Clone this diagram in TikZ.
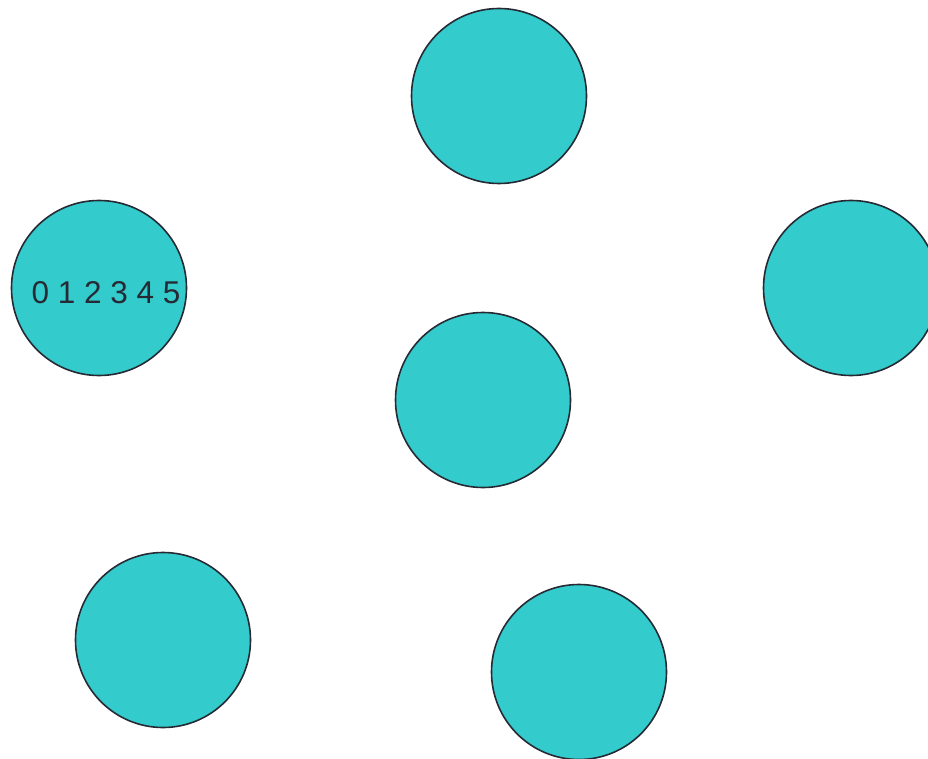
\documentclass[tikz,border=0pt]{standalone}
\usepackage{fontspec}
\setmainfont{Liberation Sans}
\usepackage{xcolor}
\usetikzlibrary{positioning}
\definecolor{tealfill}{HTML}{33CBCC}
\definecolor{ringline}{HTML}{262A35}

\begin{document}
\begin{tikzpicture}[
    x=1pt, y=-1pt,
    ball/.style={circle, draw=ringline, fill=tealfill, line width=1.6pt, minimum size=175pt, inner sep=0pt},
    digits/.style={font=\fontsize{31.5}{36}\selectfont, text=ringline, inner sep=0pt}
]
\useasboundingbox (0,0) rectangle (928,759);
% Balls
\node[ball] (top) at (499,96) {};
\node[ball] (left) at (99,288) {};
\node[ball] (right) at (851,288) {};
\node[ball] (mid) at (483,400) {};
\node[ball] (botleft) at (163,640) {};
\node[ball] (botright) at (579,672) {};
% Label
\node[digits] (nums) at (106,293) {0 1 2 3 4 5};
\end{tikzpicture}
\end{document}
